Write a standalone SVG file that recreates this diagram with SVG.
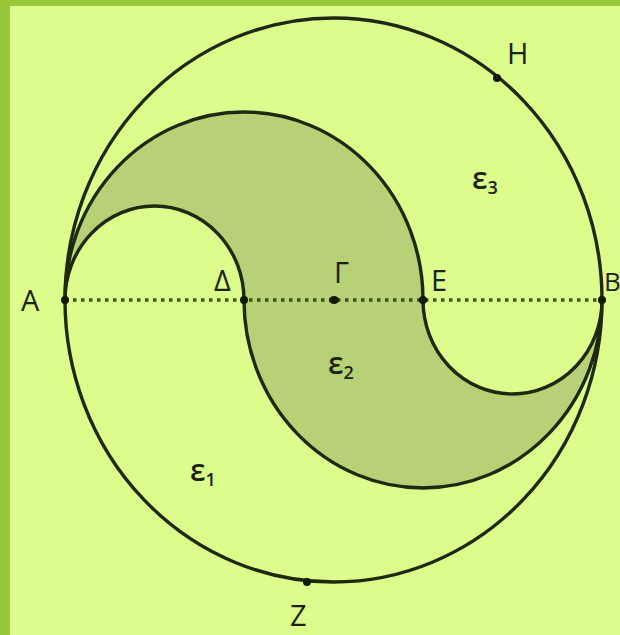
<svg xmlns="http://www.w3.org/2000/svg" width="620" height="635" viewBox="0 0 620 635">
<style>
.ln{fill:none;stroke:#1e2a10;stroke-width:3.4}
.dot{fill:#111a06}
.lbl{font-family:"Open Sans","DejaVu Sans",sans-serif;font-size:29px;fill:#1a2410}
.eps{font-family:"Open Sans","DejaVu Sans",sans-serif;font-size:30px;font-weight:600;fill:#1a2410}
.sub{font-size:18px}
</style>
<rect x="0" y="0" width="620" height="635" fill="#99c739"/>
<rect x="10" y="6" width="610" height="629" fill="#dcfc8c"/>
<g id="shaded">
<path d="M65,300 A179,188 0 0 1 423,300 A89.5,94 0 0 0 602,300 A179,188 0 0 1 244,300 A89.5,94 0 0 0 65,300 Z" fill="#b7d176" stroke="#1e2a10" stroke-width="3.4"/>
</g>
<g id="circle">
<ellipse class="ln" cx="333.5" cy="300" rx="268.5" ry="282"/>
</g>
<g id="connectors">
<line x1="65" y1="300" x2="602" y2="300" stroke="#3a5418" stroke-width="3.5" stroke-dasharray="3.5 4.5"/>
</g>
<g id="points">
<circle class="dot" cx="65" cy="300" r="4"/>
<circle class="dot" cx="244" cy="300" r="4"/>
<ellipse class="dot" cx="334" cy="300" rx="5" ry="4"/>
<circle class="dot" cx="423" cy="300" r="4"/>
<circle class="dot" cx="602" cy="300" r="4"/>
<circle class="dot" cx="497" cy="78" r="4"/>
<circle class="dot" cx="307" cy="582" r="4"/>
</g>
<g id="labels">
<text class="lbl" x="21" y="311">A</text>
<text class="lbl" x="214" y="291">Δ</text>
<text class="lbl" x="334" y="283">Γ</text>
<text class="lbl" x="431" y="291">E</text>
<text class="lbl" x="604" y="291" style="font-size:26px">B</text>
<text class="lbl" x="507" y="64">H</text>
<text class="lbl" x="290" y="626">Z</text>
<text class="eps" x="472" y="189">ε<tspan class="sub" dy="5">3</tspan></text>
<text class="eps" x="328" y="374">ε<tspan class="sub" dy="5">2</tspan></text>
<text class="eps" x="190" y="481">ε<tspan class="sub" dy="5">1</tspan></text>
</g>
</svg>
